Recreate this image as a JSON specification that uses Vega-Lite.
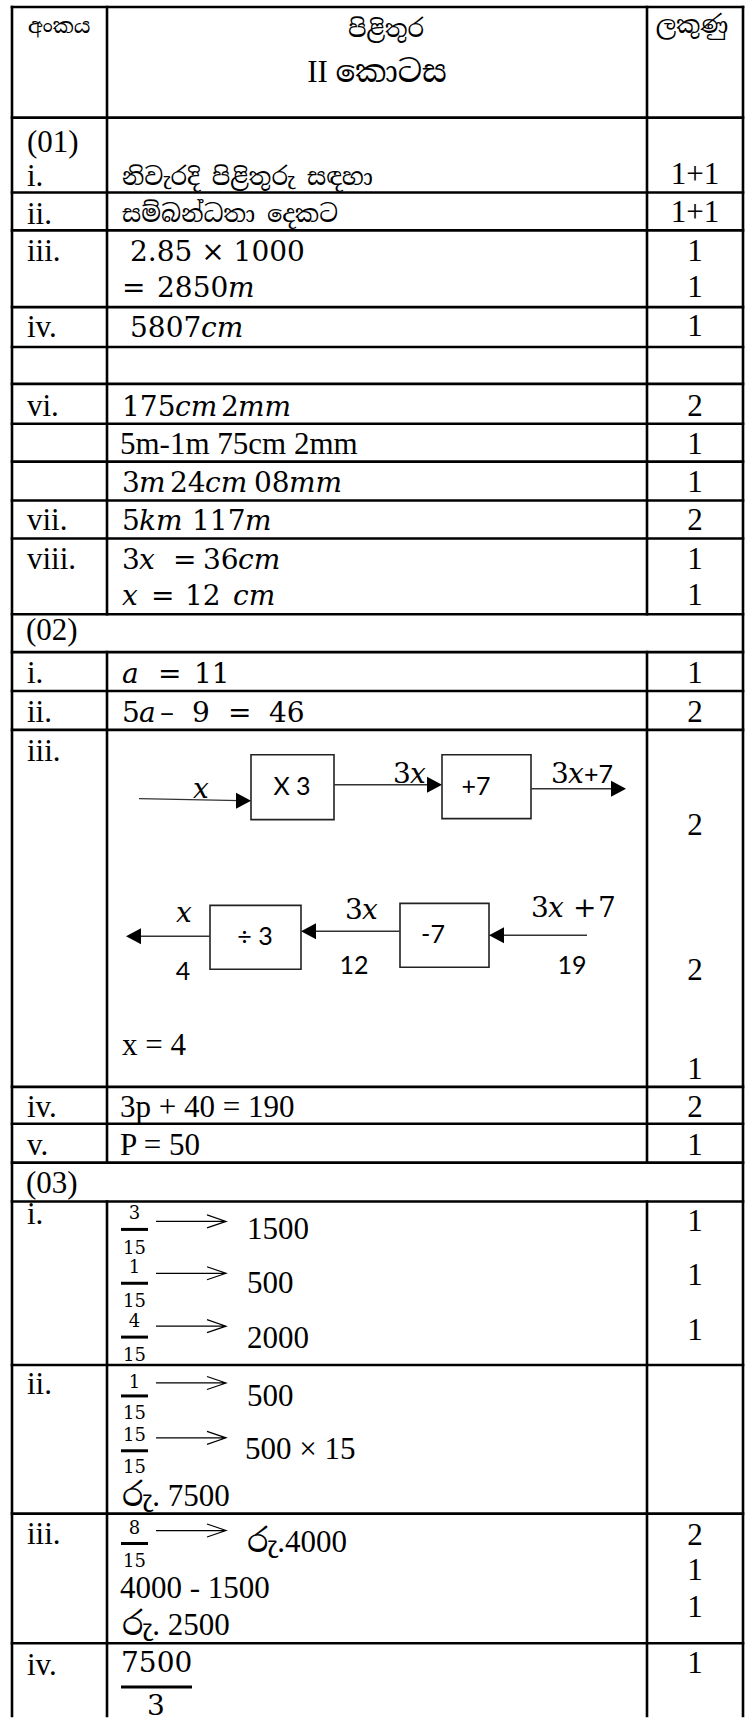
{
  "$schema": "https://vega.github.io/schema/vega-lite/v6.json",
  "width": 752,
  "height": 1721,
  "autosize": {"type": "fit", "contains": "padding"},
  "padding": 0,
  "background": "white",
  "config": {"view": {"stroke": null}},
  "encoding": {
    "x": {"field": "x", "type": "quantitative", "scale": {"domain": [0, 752], "nice": false, "zero": false}, "axis": null},
    "y": {"field": "y", "type": "quantitative", "scale": {"domain": [0, 1721], "nice": false, "zero": false, "reverse": true}, "axis": null}
  },
  "layer": [
    {
      "data": {"values": [
        {"x": 12, "x2": 743, "y": 7}, {"x": 12, "x2": 743, "y": 118}, {"x": 12, "x2": 743, "y": 193},
        {"x": 12, "x2": 743, "y": 231}, {"x": 12, "x2": 743, "y": 308}, {"x": 12, "x2": 743, "y": 348},
        {"x": 12, "x2": 743, "y": 385}, {"x": 12, "x2": 743, "y": 425}, {"x": 12, "x2": 743, "y": 463},
        {"x": 12, "x2": 743, "y": 502}, {"x": 12, "x2": 743, "y": 540}, {"x": 12, "x2": 743, "y": 616},
        {"x": 12, "x2": 743, "y": 654}, {"x": 12, "x2": 743, "y": 693}, {"x": 12, "x2": 743, "y": 732},
        {"x": 12, "x2": 743, "y": 1090}, {"x": 12, "x2": 743, "y": 1127}, {"x": 12, "x2": 743, "y": 1166},
        {"x": 12, "x2": 743, "y": 1205}, {"x": 12, "x2": 743, "y": 1369}, {"x": 12, "x2": 743, "y": 1518},
        {"x": 12, "x2": 743, "y": 1648}
      ]},
      "mark": {"type": "rule", "color": "black", "strokeWidth": 2.6, "strokeCap": "square"},
      "encoding": {"x2": {"field": "x2"}}
    },
    {
      "data": {"values": [
        {"x": 12, "y": 7, "y2": 1721}, {"x": 743, "y": 7, "y2": 1721},
        {"x": 107, "y": 7, "y2": 616}, {"x": 107, "y": 654, "y2": 1166}, {"x": 107, "y": 1205, "y2": 1721},
        {"x": 647, "y": 7, "y2": 616}, {"x": 647, "y": 654, "y2": 1166}, {"x": 647, "y": 1205, "y2": 1721}
      ]},
      "mark": {"type": "rule", "color": "black", "strokeWidth": 2.6, "strokeCap": "square"},
      "encoding": {"y2": {"field": "y2"}}
    },
    {
      "data": {"values": [
        {"x": 251, "x2": 334, "y": 757, "y2": 822},
        {"x": 442, "x2": 531, "y": 757, "y2": 821},
        {"x": 210, "x2": 301, "y": 908, "y2": 972},
        {"x": 400, "x2": 489, "y": 906, "y2": 970}
      ]},
      "mark": {"type": "rect", "fill": "white", "stroke": "#222222", "strokeWidth": 1.6},
      "encoding": {"x2": {"field": "x2"}, "y2": {"field": "y2"}}
    },
    {
      "data": {"values": [
        {"x": 139, "x2": 240, "y": 801, "y2": 803},
        {"x": 334, "x2": 430, "y": 787, "y2": 787},
        {"x": 531, "x2": 615, "y": 791, "y2": 791},
        {"x": 587, "x2": 500, "y": 938, "y2": 938},
        {"x": 400, "x2": 312, "y": 934, "y2": 934},
        {"x": 210, "x2": 137, "y": 939, "y2": 939}
      ]},
      "mark": {"type": "rule", "color": "#333333", "strokeWidth": 1.4},
      "encoding": {"x2": {"field": "x2"}, "y2": {"field": "y2"}}
    },
    {
      "data": {"values": [{"x": 251, "y": 803}, {"x": 442, "y": 787}, {"x": 626, "y": 791}]},
      "mark": {"type": "point", "shape": "M 0 0 L -1.5 -0.8 L -1.5 0.8 Z", "size": 400, "filled": true, "fill": "black", "opacity": 1, "strokeWidth": 0}
    },
    {
      "data": {"values": [{"x": 489, "y": 938}, {"x": 301, "y": 934}, {"x": 126, "y": 939}]},
      "mark": {"type": "point", "shape": "M 0 0 L 1.5 -0.8 L 1.5 0.8 Z", "size": 400, "filled": true, "fill": "black", "opacity": 1, "strokeWidth": 0}
    },
    {
      "data": {"values": [
        {"x": 121, "x2": 148, "y": 1233}, {"x": 121, "x2": 148, "y": 1287}, {"x": 121, "x2": 148, "y": 1341},
        {"x": 121, "x2": 148, "y": 1400}, {"x": 121, "x2": 148, "y": 1455}, {"x": 121, "x2": 148, "y": 1548},
        {"x": 121, "x2": 192, "y": 1692}
      ]},
      "mark": {"type": "rule", "color": "black", "strokeWidth": 3},
      "encoding": {"x2": {"field": "x2"}}
    },
    {
      "data": {"values": [
        {"x": 226, "y": 1225}, {"x": 226, "y": 1277}, {"x": 226, "y": 1330},
        {"x": 226, "y": 1387}, {"x": 226, "y": 1442}, {"x": 226, "y": 1535}
      ]},
      "mark": {"type": "point", "shape": "M -7 0 L 0 0 M -1.9 -0.65 L 0 0 L -1.9 0.65", "size": 400, "filled": false, "stroke": "black", "strokeWidth": 1.2, "opacity": 1}
    },
    {
      "data": {"values": [
        {"t": "(01)", "x": 27, "y": 152}, {"t": "i.", "x": 27, "y": 187}, {"t": "ii.", "x": 27, "y": 225},
        {"t": "iii.", "x": 27, "y": 262}, {"t": "iv.", "x": 27, "y": 338}, {"t": "vi.", "x": 27, "y": 417},
        {"t": "vii.", "x": 27, "y": 532}, {"t": "viii.", "x": 27, "y": 571}, {"t": "(02)", "x": 26, "y": 642},
        {"t": "i.", "x": 27, "y": 685}, {"t": "ii.", "x": 27, "y": 724}, {"t": "iii.", "x": 27, "y": 763},
        {"t": "iv.", "x": 27, "y": 1120}, {"t": "v.", "x": 27, "y": 1158}, {"t": "(03)", "x": 26, "y": 1196},
        {"t": "i.", "x": 27, "y": 1228}, {"t": "ii.", "x": 27, "y": 1398}, {"t": "iii.", "x": 27, "y": 1548},
        {"t": "iv.", "x": 27, "y": 1680},
        {"t": "5m-1m 75cm 2mm", "x": 120, "y": 455},
        {"t": "x = 4", "x": 122, "y": 1058},
        {"t": "3p + 40 = 190", "x": 120, "y": 1120},
        {"t": "P = 50", "x": 120, "y": 1158},
        {"t": "1500", "x": 247, "y": 1243},
        {"t": "500", "x": 247, "y": 1297},
        {"t": "2000", "x": 247, "y": 1352},
        {"t": "500", "x": 247, "y": 1410},
        {"t": "500 × 15", "x": 245, "y": 1463},
        {"t": "රු. 7500", "x": 122, "y": 1510},
        {"t": "රු.4000", "x": 247, "y": 1557},
        {"t": "4000 - 1500", "x": 120, "y": 1603},
        {"t": "රු. 2500", "x": 122, "y": 1640}
      ]},
      "mark": {"type": "text", "align": "left", "baseline": "alphabetic", "font": "Liberation Serif, Noto Serif Sinhala, Noto Sans Sinhala, Iskoola Pota, serif", "fontSize": 31, "color": "black"},
      "encoding": {"text": {"field": "t"}}
    },
    {
      "data": {"values": [
        {"t": "1+1", "x": 695, "y": 185}, {"t": "1+1", "x": 695, "y": 223}, {"t": "1", "x": 695, "y": 262},
        {"t": "1", "x": 695, "y": 298}, {"t": "1", "x": 695, "y": 337}, {"t": "2", "x": 695, "y": 417},
        {"t": "1", "x": 695, "y": 455}, {"t": "1", "x": 695, "y": 493}, {"t": "2", "x": 695, "y": 532},
        {"t": "1", "x": 695, "y": 571}, {"t": "1", "x": 695, "y": 607}, {"t": "1", "x": 695, "y": 685},
        {"t": "2", "x": 695, "y": 724}, {"t": "2", "x": 695, "y": 837}, {"t": "2", "x": 695, "y": 983},
        {"t": "1", "x": 695, "y": 1082}, {"t": "2", "x": 695, "y": 1120}, {"t": "1", "x": 695, "y": 1158},
        {"t": "1", "x": 695, "y": 1235}, {"t": "1", "x": 695, "y": 1289}, {"t": "1", "x": 695, "y": 1344},
        {"t": "2", "x": 695, "y": 1550}, {"t": "1", "x": 695, "y": 1585}, {"t": "1", "x": 695, "y": 1622},
        {"t": "1", "x": 695, "y": 1678},
        {"t": "II කොටස", "x": 377, "y": 82}
      ]},
      "mark": {"type": "text", "align": "center", "baseline": "alphabetic", "font": "Liberation Serif, Noto Serif Sinhala, Noto Sans Sinhala, Iskoola Pota, serif", "fontSize": 31, "color": "black"},
      "encoding": {"text": {"field": "t"}}
    },
    {
      "data": {"values": [{"t": "අංකය", "x": 28, "y": 33}]},
      "mark": {"type": "text", "align": "left", "baseline": "alphabetic", "font": "Noto Serif Sinhala, Noto Sans Sinhala, Iskoola Pota, Liberation Serif, serif", "fontSize": 21, "color": "black"},
      "encoding": {"text": {"field": "t"}}
    },
    {
      "data": {"values": [{"t": "පිළිතුර", "x": 386, "y": 37}, {"t": "ලකුණු", "x": 692, "y": 33}]},
      "mark": {"type": "text", "align": "center", "baseline": "alphabetic", "font": "Noto Serif Sinhala, Noto Sans Sinhala, Iskoola Pota, Liberation Serif, serif", "fontSize": 24, "color": "black"},
      "encoding": {"text": {"field": "t"}}
    },
    {
      "data": {"values": [{"t": "නිවැරදි පිළිතුරු සඳහා", "x": 122, "y": 186}, {"t": "සම්බන්ධතා දෙකට", "x": 122, "y": 223}]},
      "mark": {"type": "text", "align": "left", "baseline": "alphabetic", "font": "Noto Serif Sinhala, Noto Sans Sinhala, Iskoola Pota, Liberation Serif, serif", "fontSize": 24, "color": "black"},
      "encoding": {"text": {"field": "t"}}
    },
    {
      "data": {"values": [
        {"t": "2.85 × 1000", "x": 130, "y": 262},
        {"t": "=", "x": 122, "y": 298}, {"t": "2850", "x": 157, "y": 298},
        {"t": "5807", "x": 130, "y": 338},
        {"t": "175", "x": 122, "y": 417}, {"t": "2", "x": 221, "y": 417},
        {"t": "3", "x": 122, "y": 493}, {"t": "24", "x": 170, "y": 493}, {"t": "08", "x": 254, "y": 493},
        {"t": "5", "x": 122, "y": 532}, {"t": "117", "x": 192, "y": 532},
        {"t": "3", "x": 122, "y": 571}, {"t": "=", "x": 173, "y": 571}, {"t": "36", "x": 203, "y": 571},
        {"t": "=", "x": 151, "y": 607}, {"t": "12", "x": 185, "y": 607},
        {"t": "=", "x": 158, "y": 685}, {"t": "11", "x": 194, "y": 685},
        {"t": "5", "x": 122, "y": 724}, {"t": "–", "x": 160, "y": 724}, {"t": "9", "x": 192, "y": 724},
        {"t": "=", "x": 228, "y": 724}, {"t": "46", "x": 269, "y": 724},
        {"t": "7500", "x": 121, "y": 1677},
        {"t": "3", "x": 147, "y": 1720},
        {"t": "3", "x": 393, "y": 785}, {"t": "3", "x": 551, "y": 785},
        {"t": "3", "x": 345, "y": 922},
        {"t": "3", "x": 531, "y": 920}, {"t": "+", "x": 573, "y": 920}, {"t": "7", "x": 598, "y": 920}
      ]},
      "mark": {"type": "text", "align": "left", "baseline": "alphabetic", "font": "DejaVu Serif", "fontSize": 28, "color": "black"},
      "encoding": {"text": {"field": "t"}}
    },
    {
      "data": {"values": [
        {"t": "m", "x": 228, "y": 298},
        {"t": "cm", "x": 201, "y": 338},
        {"t": "cm", "x": 175, "y": 417}, {"t": "mm", "x": 238, "y": 417},
        {"t": "m", "x": 139, "y": 493}, {"t": "cm", "x": 205, "y": 493}, {"t": "mm", "x": 289, "y": 493},
        {"t": "km", "x": 139, "y": 532}, {"t": "m", "x": 245, "y": 532},
        {"t": "x", "x": 139, "y": 571}, {"t": "cm", "x": 238, "y": 571},
        {"t": "x", "x": 122, "y": 607}, {"t": "cm", "x": 233, "y": 607},
        {"t": "a", "x": 122, "y": 685},
        {"t": "a", "x": 139, "y": 724},
        {"t": "x", "x": 193, "y": 800}, {"t": "x", "x": 410, "y": 785}, {"t": "x", "x": 568, "y": 785},
        {"t": "x", "x": 176, "y": 925}, {"t": "x", "x": 362, "y": 922}, {"t": "x", "x": 548, "y": 920}
      ]},
      "mark": {"type": "text", "align": "left", "baseline": "alphabetic", "font": "DejaVu Serif", "fontStyle": "italic", "fontSize": 28, "color": "black"},
      "encoding": {"text": {"field": "t"}}
    },
    {
      "data": {"values": [
        {"t": "3", "x": 134.5, "y": 1218}, {"t": "15", "x": 134.5, "y": 1253},
        {"t": "1", "x": 134.5, "y": 1272}, {"t": "15", "x": 134.5, "y": 1306},
        {"t": "4", "x": 134.5, "y": 1326}, {"t": "15", "x": 134.5, "y": 1360},
        {"t": "1", "x": 134.5, "y": 1387}, {"t": "15", "x": 134.5, "y": 1418},
        {"t": "15", "x": 134.5, "y": 1440}, {"t": "15", "x": 134.5, "y": 1472},
        {"t": "8", "x": 134.5, "y": 1533}, {"t": "15", "x": 134.5, "y": 1567}
      ]},
      "mark": {"type": "text", "align": "center", "baseline": "middle", "font": "DejaVu Serif", "fontSize": 18, "color": "black"},
      "encoding": {"text": {"field": "t"}}
    },
    {
      "data": {"values": [
        {"t": "X 3", "x": 292, "y": 789}, {"t": "+7", "x": 476, "y": 789},
        {"t": "÷ 3", "x": 255, "y": 940}, {"t": "-7", "x": 433, "y": 938},
        {"t": "4", "x": 183, "y": 975}, {"t": "12", "x": 354, "y": 969}, {"t": "19", "x": 572, "y": 969}
      ]},
      "mark": {"type": "text", "align": "center", "baseline": "middle", "font": "Lato", "fontSize": 25, "color": "black"},
      "encoding": {"text": {"field": "t"}}
    },
    {
      "data": {"values": [{"t": "+7", "x": 584, "y": 785}]},
      "mark": {"type": "text", "align": "left", "baseline": "alphabetic", "font": "Lato", "fontSize": 25, "color": "black"},
      "encoding": {"text": {"field": "t"}}
    }
  ]
}
